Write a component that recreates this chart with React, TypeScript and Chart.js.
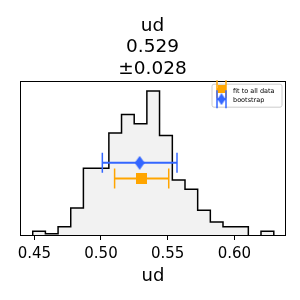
import React, { useEffect, useRef } from 'react';
import { Chart, registerables } from 'chart.js';

Chart.register(...registerables);

// ---- data ----
const binEdges = [
  0.4488, 0.4583, 0.4678, 0.4773, 0.4868, 0.4964, 0.5059, 0.5154, 0.5249, 0.5344,
  0.5439, 0.5535, 0.563, 0.5725, 0.582, 0.5915, 0.601, 0.6105, 0.62, 0.6296,
];
const binCounts = [2, 1, 4, 12, 29, 29, 44, 52, 48, 62, 43, 24, 20, 11, 6, 4, 4, 0, 2];
const xTicks = [0.45, 0.5, 0.55, 0.6];
const titleLines = ['ud', '0.529', '±0.028'];
const xLabel = 'ud';
const seriesLabels = ['fit to all data', 'bootstrap'];
const seriesMeans = [0.5305, 0.529];
const seriesErrors = [0.0203, 0.028];
const seriesLevels = [24.6, 31.3];
const seriesColors = ['#ffa500', '#3366ff'];

const FONT = '"DejaVu Sans", "Liberation Sans", sans-serif';

function squareMarker(size: number, color: string) {
  const c = document.createElement('canvas');
  c.width = size;
  c.height = size;
  const g = c.getContext('2d')!;
  g.fillStyle = color;
  g.fillRect(0, 0, size, size);
  return c;
}

function thinDiamondMarker(w: number, h: number, color: string) {
  const c = document.createElement('canvas');
  c.width = w;
  c.height = h;
  const g = c.getContext('2d')!;
  g.fillStyle = color;
  g.beginPath();
  g.moveTo(w / 2, 0);
  g.lineTo(w, h / 2);
  g.lineTo(w / 2, h);
  g.lineTo(0, h / 2);
  g.closePath();
  g.fill();
  return c;
}

export default function App() {
  const ref = useRef<HTMLCanvasElement | null>(null);

  useEffect(() => {
    if (!ref.current) return;
    const markers = [squareMarker(11, seriesColors[0]), thinDiamondMarker(10, 14, seriesColors[1])];
    const legendMarkers = [squareMarker(8, seriesColors[0]), thinDiamondMarker(8, 12, seriesColors[1])];

    const histPts: { x: number; y: number }[] = [{ x: binEdges[0], y: 0 }];
    binCounts.forEach((c, i) => {
      histPts.push({ x: binEdges[i], y: c });
      histPts.push({ x: binEdges[i + 1], y: c });
    });
    histPts.push({ x: binEdges[binEdges.length - 1], y: 0 });

    const datasets: any[] = [
      {
        data: histPts,
        showLine: true,
        fill: 'origin',
        backgroundColor: '#f2f2f2',
        borderColor: '#000',
        borderWidth: 1.5,
        pointRadius: 0,
        tension: 0,
        order: 10,
      },
    ];
    seriesMeans.forEach((m, i) => {
      datasets.push({
        data: [
          { x: m - seriesErrors[i], y: seriesLevels[i] },
          { x: m + seriesErrors[i], y: seriesLevels[i] },
        ],
        showLine: true,
        borderColor: seriesColors[i],
        borderWidth: 2,
        pointStyle: 'line',
        pointRotation: 90,
        pointRadius: 10,
        pointBorderColor: seriesColors[i],
        pointBorderWidth: 1.5,
        order: 5 - i * 2,
      });
      datasets.push({
        data: [{ x: m, y: seriesLevels[i] }],
        showLine: false,
        pointStyle: markers[i],
        order: 4 - i * 2,
      });
    });

    const framePlugin = {
      id: 'frameLegend',
      afterDraw(chart: any) {
        const ctx = chart.ctx as CanvasRenderingContext2D;
        const ca = chart.chartArea;
        ctx.save();
        ctx.strokeStyle = '#000';
        ctx.lineWidth = 1;
        const x0 = Math.round(ca.left) - 0.5;
        const x1 = Math.round(ca.right) + 0.5;
        const y0 = Math.round(ca.top) - 0.5;
        const y1 = Math.round(ca.bottom) - 0.5;
        ctx.strokeRect(x0, y0, x1 - x0, y1 - y0);

        // legend
        const bx = ca.right - 73;
        const by = ca.top + 2.5;
        const bw = 70;
        const bh = 23;
        ctx.fillStyle = 'rgba(255,255,255,0.8)';
        ctx.strokeStyle = '#cccccc';
        ctx.lineWidth = 1;
        ctx.beginPath();
        (ctx as any).roundRect(bx, by, bw, bh, 2);
        ctx.fill();
        ctx.stroke();

        const rowY = [by + 5, by + 15];
        const textY = [by + 7.5, by + 16];
        const hx0 = bx + 5;
        const hx1 = bx + 14;
        seriesLabels.forEach((lab, i) => {
          const y = rowY[i];
          ctx.strokeStyle = seriesColors[i];
          ctx.lineWidth = 2;
          ctx.beginPath();
          ctx.moveTo(hx0, y);
          ctx.lineTo(hx1, y);
          ctx.stroke();
          ctx.lineWidth = 1.5;
          ctx.beginPath();
          ctx.moveTo(hx0, y - 9);
          ctx.lineTo(hx0, y + 9);
          ctx.moveTo(hx1, y - 9);
          ctx.lineTo(hx1, y + 9);
          ctx.stroke();
          const mk = legendMarkers[i];
          ctx.drawImage(mk, (hx0 + hx1) / 2 - mk.width / 2, y - mk.height / 2);
          ctx.fillStyle = '#000';
          ctx.font = `6.5px ${FONT}`;
          ctx.textBaseline = 'middle';
          ctx.textAlign = 'left';
          ctx.fillText(lab, bx + 21, textY[i]);
        });
        ctx.restore();
      },
    };

    const chart = new Chart(ref.current, {
      type: 'scatter',
      data: { datasets },
      options: {
        animation: false,
        responsive: false,
        maintainAspectRatio: false,
        layout: { padding: { left: 20, right: 15, top: 0, bottom: 0 } },
        plugins: {
          legend: { display: false },
          tooltip: { enabled: false },
          title: {
            display: true,
            text: titleLines,
            color: '#000',
            font: { family: FONT, size: 18.5, weight: 'normal', lineHeight: 1.16 },
            padding: { top: 15.3, bottom: 2 },
          },
        },
        scales: {
          x: {
            type: 'linear',
            min: 0.44,
            max: 0.638,
            afterBuildTicks: (s: any) => {
              s.ticks = xTicks.map((v) => ({ value: v }));
            },
            afterFit: (s: any) => {
              s.height = 64;
            },
            ticks: {
              callback: (v: any) => Number(v).toFixed(2),
              color: '#000',
              font: { family: FONT, size: 15 },
              padding: 5,
              maxRotation: 0,
              autoSkip: false,
            },
            grid: {
              display: true,
              drawOnChartArea: false,
              drawTicks: true,
              tickLength: 4,
              color: '#000',
              lineWidth: 1,
            },
            border: { display: false },
            title: {
              display: true,
              text: xLabel,
              color: '#000',
              font: { family: FONT, size: 18 },
              padding: { top: 0, bottom: 13 },
            },
          },
          y: {
            type: 'linear',
            min: 0,
            max: 66,
            afterFit: (s: any) => {
              s.width = 1;
            },
            ticks: { display: false },
            grid: { display: false },
            border: { display: false },
          },
        },
      } as any,
      plugins: [framePlugin],
    });
    return () => chart.destroy();
  }, []);

  return (
    <div style={{ position: 'absolute', left: 0, top: 0, width: 300, height: 300 }}>
      <canvas ref={ref} width={300} height={300} style={{ width: 300, height: 300 }} />
    </div>
  );
}
